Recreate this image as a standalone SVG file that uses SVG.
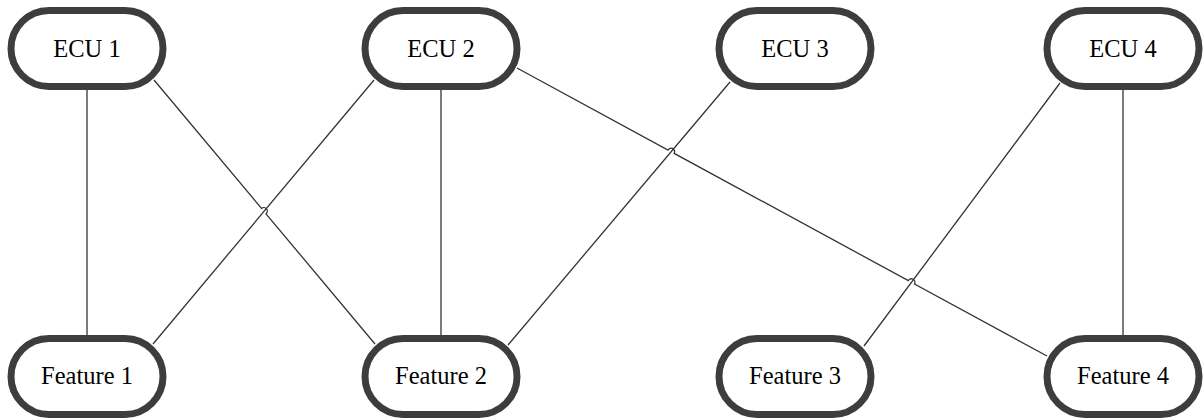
<svg xmlns="http://www.w3.org/2000/svg" width="1203" height="419" viewBox="0 0 1203 419">
<style>
.node rect{fill:#ffffff;stroke:#3d3d3d;stroke-width:7}
.node text{font-family:"Liberation Serif","Times New Roman",serif;font-size:24.5px;fill:#000;text-anchor:middle}
.edge{fill:none;stroke:#333;stroke-width:1.3}
</style>
<rect width="1203" height="419" fill="#ffffff"/>
<g id="connectors">
<path class="edge" d="M87,90 L87,335"/>
<path class="edge" d="M441,90 L441,335"/>
<path class="edge" d="M1123,90 L1123,335"/>
<path class="edge" d="M374,80 L153,344"/>
<path class="edge" d="M730,82 L508,345"/>
<path class="edge" d="M1060,83 L864,346"/>
<path class="edge" d="M154,80 L261.5,208.4 A3.5,3.5 0 0 1 266,213.8 L375,344"/>
<path class="edge" d="M517,68 L668,150 A3.5,3.5 0 0 1 674.2,153.4 L908.3,280.6 A3.5,3.5 0 0 1 914.5,284 L1047,356"/>
</g>
<g id="ecu1" class="node"><rect x="11" y="10.5" width="152" height="76" rx="38"/><text x="87" y="56.5">ECU 1</text></g>
<g id="ecu2" class="node"><rect x="365" y="10.5" width="152" height="76" rx="38"/><text x="441" y="56.5">ECU 2</text></g>
<g id="ecu3" class="node"><rect x="719" y="10.5" width="152" height="76" rx="38"/><text x="795" y="56.5">ECU 3</text></g>
<g id="ecu4" class="node"><rect x="1047" y="10.5" width="152" height="76" rx="38"/><text x="1123" y="56.5">ECU 4</text></g>
<g id="feature1" class="node"><rect x="11" y="338.5" width="152" height="76" rx="38"/><text x="87" y="384">Feature 1</text></g>
<g id="feature2" class="node"><rect x="365" y="338.5" width="152" height="76" rx="38"/><text x="441" y="384">Feature 2</text></g>
<g id="feature3" class="node"><rect x="719" y="338.5" width="152" height="76" rx="38"/><text x="795" y="384">Feature 3</text></g>
<g id="feature4" class="node"><rect x="1047" y="338.5" width="152" height="76" rx="38"/><text x="1123" y="384">Feature 4</text></g>
</svg>
